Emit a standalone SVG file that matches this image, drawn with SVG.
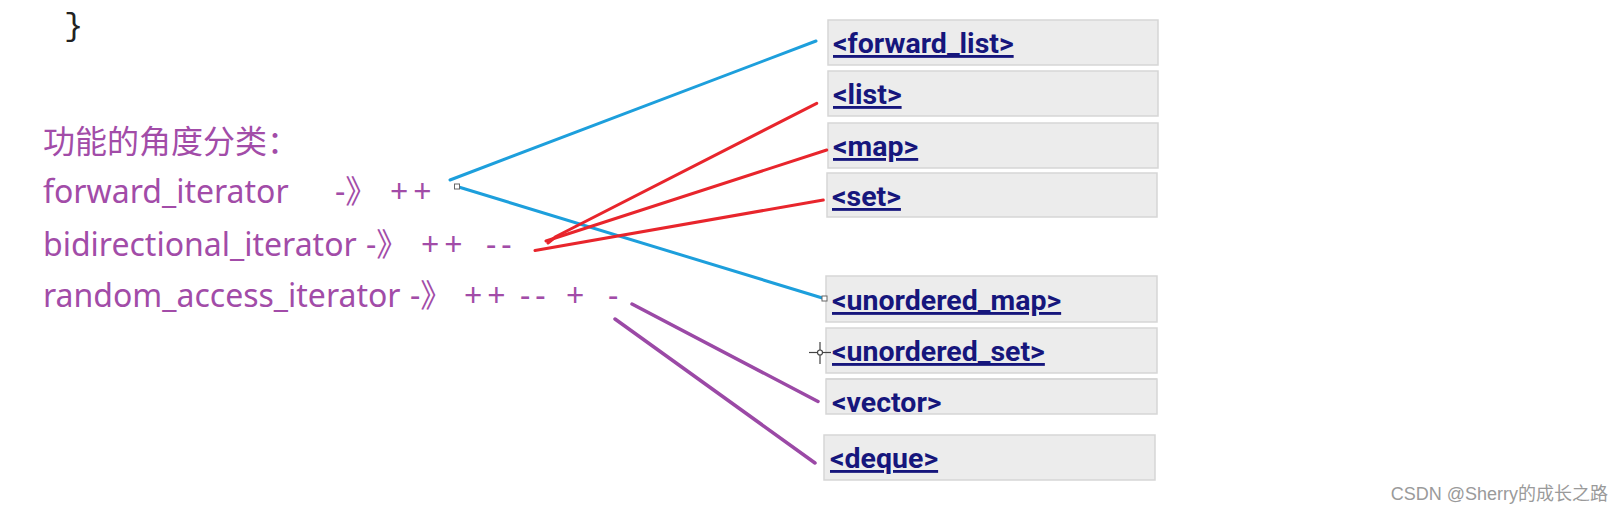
<svg xmlns="http://www.w3.org/2000/svg" width="1624" height="512" viewBox="0 0 1624 512">
<style>
.lbl{font-family:"Noto Sans","Noto Sans CJK SC",sans-serif;font-size:32px;fill:#a24ca8}
.sp{letter-spacing:5px}
.box{fill:#ececec;stroke:#d6d6d6;stroke-width:1.5}
.bt{font-family:Roboto,"Liberation Sans",sans-serif;font-weight:bold;font-size:28.5px;fill:#16167c}
.u{text-decoration:underline}
.blue{stroke:#1d9fdc;stroke-width:3;fill:none;stroke-linecap:round}
.red{stroke:#e8252c;stroke-width:3;fill:none;stroke-linecap:round;stroke-linejoin:round}
.pur{stroke:#9b49a6;stroke-width:3.5;fill:none;stroke-linecap:round}
.hnd{fill:#fff;stroke:#666;stroke-width:1}
</style>
<rect width="1624" height="512" fill="#fff"/>
<text x="64" y="35" font-family="Liberation Mono,monospace" font-size="32" fill="#222">}</text>

<g id="labels">
<text class="lbl" x="43" y="153" font-family="Noto Sans CJK SC,sans-serif">功能的角度分类：</text>
<text class="lbl" x="43" y="203">forward_iterator</text>
<text class="lbl" x="335" y="203">-》</text>
<text class="lbl sp" x="390" y="203">++</text>
<text class="lbl" x="43" y="256">bidirectional_iterator</text>
<text class="lbl" x="366" y="256">-》</text>
<text class="lbl sp" x="421" y="256">++</text>
<text class="lbl sp" x="486" y="256">--</text>
<text class="lbl" x="43" y="307">random_access_iterator</text>
<text class="lbl" x="410" y="307">-》</text>
<text class="lbl sp" x="464" y="307">++</text>
<text class="lbl sp" x="520" y="307">--</text>
<text class="lbl" x="566" y="307">+</text>
<text class="lbl" x="608" y="307">-</text>
</g>

<g id="node-forward_list"><rect class="box" x="828" y="20" width="330" height="45"/><text class="bt u" x="833" y="53">&lt;forward_list&gt;</text></g>
<g id="node-list"><rect class="box" x="828" y="71" width="330" height="45"/><text class="bt u" x="833" y="104">&lt;list&gt;</text></g>
<g id="node-map"><rect class="box" x="828" y="123" width="330" height="45"/><text class="bt u" x="833" y="156">&lt;map&gt;</text></g>
<g id="node-set"><rect class="box" x="827" y="173" width="330" height="44"/><text class="bt u" x="832" y="206">&lt;set&gt;</text></g>
<g id="node-unordered_map"><rect class="box" x="826" y="276" width="331" height="46"/><text class="bt u" x="832" y="310">&lt;unordered_map&gt;</text></g>
<g id="node-unordered_set"><rect class="box" x="826" y="328" width="331" height="45"/><text class="bt u" x="832" y="361">&lt;unordered_set&gt;</text></g>
<g id="node-vector"><rect class="box" x="826" y="379" width="331" height="35" stroke-width="0"/><line x1="826" y1="379" x2="1157" y2="379" stroke="#d6d6d6" stroke-width="1.5"/><text class="bt" x="832" y="412">&lt;vector&gt;</text></g>
<g id="node-deque"><rect class="box" x="824" y="435" width="331" height="45"/><text class="bt u" x="830" y="468">&lt;deque&gt;</text></g>

<g id="connectors">
<line class="blue" x1="450" y1="180" x2="816" y2="41"/>
<line class="blue" x1="457" y1="186.5" x2="824" y2="298.5"/>
<path class="red" d="M816.7,103.3 L556,236.5 L548,243"/>
<path class="red" d="M826.7,150 L546,241"/>
<path class="red" d="M823.3,200 L535,250.5"/>
<line class="pur" x1="632" y1="304" x2="818" y2="401.5"/>
<line class="pur" x1="615" y1="319" x2="815" y2="463"/>
<rect class="hnd" x="454.5" y="184" width="5" height="5"/>
<rect class="hnd" x="822" y="296" width="5" height="5"/>
</g>

<g id="cursor" stroke="#444" stroke-width="1.2" fill="none">
<line x1="809" y1="352.5" x2="831" y2="352.5"/>
<line x1="820" y1="342" x2="820" y2="364"/>
<circle cx="820" cy="352.5" r="2.5" fill="#fff"/>
</g>

<text x="1608" y="500" text-anchor="end" font-family="Liberation Sans,Noto Sans CJK SC,sans-serif" font-size="18" fill="#9a9a9a">CSDN @Sherry的成长之路</text>
</svg>
